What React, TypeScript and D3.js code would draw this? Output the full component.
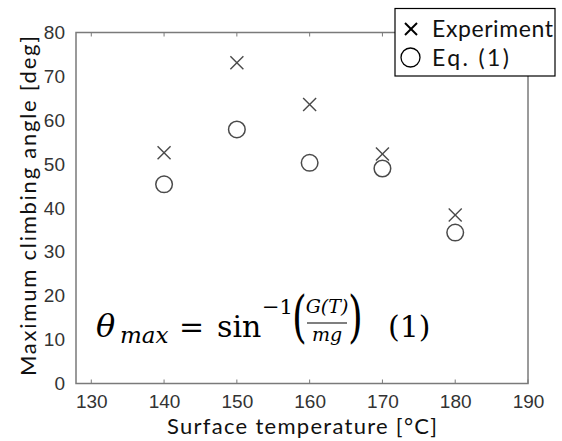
import { useEffect, useRef } from 'react';
import * as d3 from 'd3';

// surface temperature [°C]
const temps = [140, 150, 160, 170, 180];
// maximum climbing angle [deg]
const experiment = [52.6, 73.1, 63.6, 52.3, 38.4];
const equation = [45.4, 57.9, 50.3, 49.0, 34.4];

const xTicks = [130, 140, 150, 160, 170, 180, 190];
const yTicks = [0, 10, 20, 30, 40, 50, 60, 70, 80];

export default function App() {
  const width = 562;
  const height = 441;
  const marginLeft = 76;
  const marginRight = 34;
  const marginTop = 32.5;
  const marginBottom = 57.5;

  const x = d3.scaleLinear().domain([127.9, 190]).range([marginLeft, width - marginRight]);
  const y = d3.scaleLinear().domain([0, 80]).range([height - marginBottom, marginTop]);

  const gx = useRef<SVGGElement>(null);
  const gy = useRef<SVGGElement>(null);

  useEffect(() => {
    const ax = d3.select(gx.current!);
    ax.call(d3.axisBottom(x).tickValues(xTicks).tickSize(0).tickPadding(11).tickFormat(d3.format('d')) as any);
    ax.select('.domain').remove();
    ax.selectAll('text').attr('font-family', 'Liberation Sans, Arial, sans-serif').attr('font-size', 19).attr('fill', '#333');

    const ay = d3.select(gy.current!);
    ay.call(d3.axisLeft(y).tickValues(yTicks).tickSize(0).tickPadding(11).tickFormat(d3.format('d')) as any);
    ay.select('.domain').remove();
    ay.selectAll('text').attr('font-family', 'Liberation Sans, Arial, sans-serif').attr('font-size', 19).attr('fill', '#333');
  }, []);

  const markColor = '#4a4a4a';
  const xs = 6.5; // half size of cross
  const titleFont = 'Lato, Noto Sans, sans-serif';
  const mathFont = 'DejaVu Serif, Liberation Serif, serif';

  return (
    <svg width={width} height={height} style={{ position: 'absolute', left: 0, top: 0, background: '#fff' }}>
      {/* plot box */}
      <rect x={x(127.9)} y={y(80)} width={x(190) - x(127.9)} height={y(0) - y(80)} fill="none" stroke="#7a7a7a" strokeWidth={1.5} />
      {/* inside ticks on top and bottom */}
      {xTicks.map(t => (
        <g key={t} stroke="#7a7a7a" strokeWidth={1}>
          <line x1={x(t)} x2={x(t)} y1={y(0)} y2={y(0) - 4} />
          <line x1={x(t)} x2={x(t)} y1={y(80)} y2={y(80) + 4} />
        </g>
      ))}
      <g ref={gx} transform={`translate(0,${y(0)})`} />
      <g ref={gy} transform={`translate(${marginLeft},0)`} />

      {/* data */}
      {temps.map((t, i) => (
        <g key={'e' + t} stroke={markColor} strokeWidth={1.4}>
          <line x1={x(t) - xs} x2={x(t) + xs} y1={y(experiment[i]) - xs} y2={y(experiment[i]) + xs} />
          <line x1={x(t) - xs} x2={x(t) + xs} y1={y(experiment[i]) + xs} y2={y(experiment[i]) - xs} />
        </g>
      ))}
      {temps.map((t, i) => (
        <circle key={'c' + t} cx={x(t)} cy={y(equation[i])} r={8.3} fill="none" stroke={markColor} strokeWidth={1.5} />
      ))}

      {/* axis titles */}
      <text x={(x(127.9) + x(190)) / 2} y={434} textAnchor="middle" fontFamily={titleFont} fontSize={22} fill="#111"
        textLength={270} lengthAdjust="spacing">
        Surface temperature [°C]
      </text>
      <text transform={`translate(36,${(y(0) + y(80)) / 2 - 2}) rotate(-90)`} textAnchor="middle" fontFamily={titleFont} fontSize={22} fill="#111"
        textLength={340} lengthAdjust="spacing">
        Maximum climbing angle [deg]
      </text>

      {/* equation */}
      <g fontFamily={mathFont} fill="#000">
        <text x={96} y={337} fontSize={32} fontStyle="italic">θ</text>
        <text x={120} y={343} fontSize={23} fontStyle="italic">max</text>
        <text x={179} y={337} fontSize={30}>=</text>
        <text x={217} y={337} fontSize={30}>sin</text>
        <text x={262} y={314} fontSize={21}>−1</text>
        <text transform="translate(292,336) scale(1,1.45)" fontSize={38}>(</text>
        <text x={327} y={313} fontSize={19} textAnchor="middle" fontStyle="italic">G(T)</text>
        <line x1={307} x2={347} y1={323} y2={323} stroke="#000" strokeWidth={1.2} />
        <text x={327} y={341} fontSize={19} textAnchor="middle" fontStyle="italic">mg</text>
        <text transform="translate(348,336) scale(1,1.45)" fontSize={38}>)</text>
        <text x={388} y={337} fontSize={30}>(1)</text>
      </g>

      {/* legend */}
      <rect x={395} y={8.5} width={160} height={67.5} fill="#fff" stroke="#000" strokeWidth={1.2} />
      <g stroke="#000" strokeWidth={2}>
        <line x1={405} x2={417} y1={23} y2={35} />
        <line x1={405} x2={417} y1={35} y2={23} />
      </g>
      <circle cx={410.5} cy={57.5} r={9.5} fill="none" stroke="#000" strokeWidth={1.3} />
      <g fontFamily={titleFont} fontSize={23} fill="#111">
        <text x={432} y={37} textLength={121} lengthAdjust="spacing">Experiment</text>
        <text x={432} y={66} textLength={77} lengthAdjust="spacing">Eq. (1)</text>
      </g>
    </svg>
  );
}
